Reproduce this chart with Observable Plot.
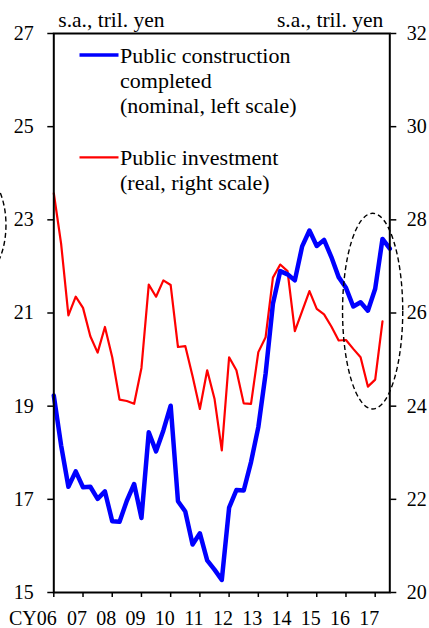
<!DOCTYPE html>
<html><head><meta charset="utf-8">
<script src="https://cdn.jsdelivr.net/npm/d3@7"></script>
<script src="https://cdn.jsdelivr.net/npm/@observablehq/plot@0.6"></script>
<style>
html,body{margin:0;padding:0;background:#fff;}
#chart{width:429px;height:628px;overflow:hidden;}
</style></head><body><div id="chart"></div>
<script>
// Quarterly data starting CY2006 Q1
const startYear = 2006;
// Public construction completed (nominal, tril. yen, left scale)
const construction = [19.23, 18.16, 17.27, 17.60, 17.26, 17.27, 17.01, 17.17, 16.53, 16.52,
  16.97, 17.33, 16.60, 18.44, 18.03, 18.48, 19.01, 16.96, 16.74, 16.03,
  16.27, 15.69, 15.49, 15.27, 16.82, 17.20, 17.19, 17.80, 18.55, 19.70,
  21.20, 21.90, 21.83, 21.70, 22.43, 22.77, 22.44, 22.57, 22.20, 21.77,
  21.54, 21.14, 21.23, 21.05, 21.52, 22.59, 22.38];
// Public investment (real, tril. yen, right scale)
const investment = [28.57, 27.49, 25.95, 26.35, 26.11, 25.50, 25.15, 25.70, 25.05, 24.14,
  24.11, 24.05, 24.82, 26.61, 26.35, 26.70, 26.60, 25.27, 25.29, 24.64,
  23.94, 24.77, 24.16, 23.05, 25.05, 24.77, 24.06, 24.05, 25.16, 25.48,
  26.76, 27.04, 26.90, 25.61, 26.04, 26.47, 26.09, 25.97, 25.71, 25.41,
  25.42, 25.23, 25.05, 24.42, 24.57, 25.82];
const yearTicks = [2006, 2007, 2008, 2009, 2010, 2011, 2012, 2013, 2014, 2015, 2016, 2017];
const yearLabels = ["CY06", "07", "08", "09", "10", "11", "12", "13", "14", "15", "16", "17"];
const leftTicks = [15, 17, 19, 21, 23, 25, 27];
const rightTicks = [20, 22, 24, 26, 28, 30, 32];
const leftDomain = [15, 27];
const rightDomain = [20, 32];
const unitLabel = "s.a., tril. yen";
const legendBlue = ["Public construction", "completed", "(nominal, left scale)"];
const legendRed = ["Public investment", "(real, right scale)"];
// dashed ellipse annotations (centre year, centre left-scale value, radii)
const ellipseX = [2016.93, 2003.35];
const ellipseY = [21.03, 22.88];
const ellipseRX = [1.03, 1.03];
const ellipseRY = [2.10, 1.18];

// map right scale onto left scale (same span)
const toLeft = v => leftDomain[0] + (v - rightDomain[0]) * (leftDomain[1] - leftDomain[0]) / (rightDomain[1] - rightDomain[0]);

const consData = construction.map((v, i) => ({date: startYear + i / 4, value: v}));
const invData = investment.map((v, i) => ({date: startYear + i / 4, value: toLeft(v)}));
const labelData = yearTicks.map((y, i) => ({year: y, label: yearLabels[i]}));
const rightData = rightTicks.map(v => ({pos: toLeft(v), label: String(v)}));

const font = "'Liberation Serif', 'Times New Roman', serif";
const mL = 53.3, mR = 39.7, mT = 33, mB = 36;

const plot = Plot.plot({
  width: 429, height: 628,
  marginLeft: mL, marginRight: mR, marginTop: mT, marginBottom: mB,
  style: {fontFamily: font, fontSize: "20px", background: "white", color: "black"},
  x: {domain: [startYear, 2017.5], label: null},
  y: {domain: leftDomain, label: null},
  marks: [
    Plot.axisY(leftTicks, {anchor: "left", tickSize: 6, tickPadding: 14, strokeWidth: 1.5, fontSize: 20, label: null, tickFormat: d => String(d)}),
    Plot.axisY(rightData.map(d => d.pos), {anchor: "right", tickSize: 6, tickPadding: 11, strokeWidth: 1.5, fontSize: 20, label: null,
      tickFormat: d => rightData.find(r => Math.abs(r.pos - d) < 1e-9).label}),
    Plot.axisX(yearTicks, {anchor: "bottom", tickSize: 5, strokeWidth: 1.5, fill: "none", label: null}),
    Plot.text(labelData.slice(0, 1), {x: "year", text: "label", frameAnchor: "bottom", lineAnchor: "top", dy: 18, dx: 3, textAnchor: "end", fontSize: 20}),
    Plot.text(labelData.slice(1), {x: "year", text: "label", frameAnchor: "bottom", lineAnchor: "top", dy: 18, dx: -6, fontSize: 20}),
    Plot.line(invData, {x: "date", y: "value", stroke: "#ff0000", strokeWidth: 2.2}),
    Plot.line(consData, {x: "date", y: "value", stroke: "#0000ff", strokeWidth: 4.5}),
    Plot.frame({stroke: "black", strokeWidth: 2})
  ]
});

const svg = d3.select(plot);
const sx = plot.scale("x"), sy = plot.scale("y");
// ellipses
ellipseX.forEach((ex, i) => {
  const cx = sx.apply(ex), cy = sy.apply(ellipseY[i]);
  const rx = sx.apply(ex + ellipseRX[i]) - cx;
  const ry = cy - sy.apply(ellipseY[i] + ellipseRY[i]);
  svg.append("ellipse").attr("cx", cx).attr("cy", cy).attr("rx", rx).attr("ry", ry)
    .attr("fill", "none").attr("stroke", "black").attr("stroke-width", 1.4).attr("stroke-dasharray", "5,3");
});
// unit labels
svg.append("text").attr("x", mL + 5).attr("y", 26.5).attr("font-size", 21.5).attr("font-family", font)
  .attr("text-anchor", "start").text(unitLabel);
svg.append("text").attr("x", 429 - mR - 6).attr("y", 26.5).attr("font-size", 21.5).attr("font-family", font)
  .attr("text-anchor", "end").text(unitLabel);
// legend
const lg = svg.append("g").attr("font-family", font).attr("font-size", 22).attr("text-anchor", "start");
lg.append("line").attr("x1", 79.5).attr("x2", 118.5).attr("y1", 55).attr("y2", 55).attr("stroke", "#0000ff").attr("stroke-width", 3.5);
legendBlue.forEach((t, i) => lg.append("text").attr("x", 120).attr("y", 63.3 + i * 24.7).text(t));
lg.append("line").attr("x1", 79.5).attr("x2", 118.5).attr("y1", 157.3).attr("y2", 157.3).attr("stroke", "#ff0000").attr("stroke-width", 2.2);
legendRed.forEach((t, i) => lg.append("text").attr("x", 120).attr("y", 165 + i * 24.5).text(t));

document.getElementById("chart").appendChild(plot);
</script>
</body></html>
